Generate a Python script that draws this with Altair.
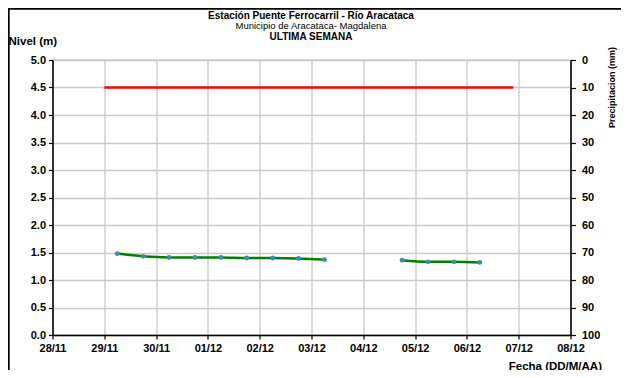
import altair as alt
import pandas as pd

# ---- data ----
times = ["2023-11-29T06:00:00", "2023-11-29T18:00:00", "2023-11-30T06:00:00",
         "2023-11-30T18:00:00", "2023-12-01T06:00:00", "2023-12-01T18:00:00",
         "2023-12-02T06:00:00", "2023-12-02T18:00:00", "2023-12-03T06:00:00",
         "2023-12-04T18:00:00", "2023-12-05T06:00:00", "2023-12-05T18:00:00",
         "2023-12-06T06:00:00"]
levels = [1.48, 1.43, 1.41, 1.41, 1.41, 1.40, 1.40, 1.39, 1.37,
          1.36, 1.33, 1.33, 1.32]
segments = [1, 1, 1, 1, 1, 1, 1, 1, 1, 2, 2, 2, 2]

alert_times = ["2023-11-29T00:00:00", "2023-12-06T21:30:00"]
alert_levels = [4.5, 4.5]

day_ticks = [(2023, 11, 28), (2023, 11, 29), (2023, 11, 30), (2023, 12, 1),
             (2023, 12, 2), (2023, 12, 3), (2023, 12, 4), (2023, 12, 5),
             (2023, 12, 6), (2023, 12, 7), (2023, 12, 8)]
level_ticks = [0.0, 0.5, 1.0, 1.5, 2.0, 2.5, 3.0, 3.5, 4.0, 4.5, 5.0]
precip_ticks = [0, 10, 20, 30, 40, 50, 60, 70, 80, 90, 100]

title_lines = ["Estación Puente Ferrocarril - Río Aracataca",
               "Municipio de Aracataca- Magdalena",
               "ULTIMA SEMANA"]

FONT = "Liberation Sans"

df = pd.DataFrame({"t": times, "nivel": levels, "seg": segments})
alert = pd.DataFrame({"t": alert_times, "nivel": alert_levels})
precip = pd.DataFrame({"p": [precip_ticks[0], precip_ticks[-1]]})
one = pd.DataFrame({"a": [0]})

dt = [alt.DateTime(year=y, month=m, date=d) for (y, m, d) in day_ticks]

x_enc = alt.X("t:T",
              scale=alt.Scale(domain=[dt[0], dt[-1]]),
              axis=alt.Axis(values=dt, format="%d/%m", title="Fecha (DD/M/AA)",
                            grid=True, gridColor="#c8c8c8", gridWidth=1.3,
                            tickSize=4, labelPadding=3, labelOverlap=False,
                            labelFlush=False,
                            titleX=549, titleY=34, titleAlign="right",
                            titleBaseline="alphabetic", titleFontSize=11.5,
                            titleFontWeight="bold", titleFont=FONT))
y_enc = alt.Y("nivel:Q",
              scale=alt.Scale(domain=[0, 5], nice=False, zero=False),
              axis=alt.Axis(values=level_ticks, format=".1f", title="Nivel (m)",
                            grid=True, gridColor="#c8c8c8", gridWidth=1.3,
                            tickSize=4, labelOverlap=False, labelFlush=False,
                            labelPadding=3,
                            titleAngle=0, titleX=-44.5, titleY=-16,
                            titleAlign="left", titleBaseline="alphabetic",
                            titleFontSize=11.5, titleFontWeight="bold",
                            titleFont=FONT))

alert_line = alt.Chart(alert).mark_line(color="#ff0000", strokeWidth=2.5)

level_line = alt.Chart(df).mark_line(color="#008000", strokeWidth=2.5,
                                     interpolate="monotone").encode(detail="seg:N")

level_pts = alt.Chart(df).mark_point(filled=True, size=24, color="#3b8fae",
                                     opacity=1)

main = alt.layer(alert_line, level_line, level_pts).encode(x=x_enc, y=y_enc)

right_axis = alt.Chart(precip).mark_point(opacity=0).encode(
    y=alt.Y("p:Q",
            scale=alt.Scale(domain=[0, 100], reverse=True, nice=False),
            axis=alt.Axis(orient="right", values=precip_ticks, format="d",
                          grid=False, tickSize=5, labelOverlap=False,
                          labelFlush=False,
                          title="Precipitacion (mm)",
                          titleAngle=270, titleX=41, titleY=27,
                          titleAlign="center", titleBaseline="middle",
                          titleFontSize=9, titleFontWeight="bold",
                          titleFont=FONT, labelPadding=6)))

t1 = alt.Chart(one).mark_text(text=title_lines[0], font=FONT, fontSize=10,
                              fontWeight="bold", align="center",
                              baseline="alphabetic").encode(
    x=alt.value(258.5), y=alt.value(-41.5))
t2 = alt.Chart(one).mark_text(text=title_lines[1], font=FONT, fontSize=9.5,
                              fontWeight="normal", align="center",
                              baseline="alphabetic").encode(
    x=alt.value(258.5), y=alt.value(-31))
t3 = alt.Chart(one).mark_text(text=title_lines[2], font=FONT, fontSize=10,
                              fontWeight="bold", align="center",
                              baseline="alphabetic").encode(
    x=alt.value(258.5), y=alt.value(-20.5))

border_left = alt.Chart(one).mark_rule(color="black", strokeWidth=2).encode(
    x=alt.value(-43.8), y=alt.value(-52), y2=alt.value(320))
border_top = alt.Chart(one).mark_rule(color="black", strokeWidth=2).encode(
    x=alt.value(-45), x2=alt.value(580), y=alt.value(-51.3))

chart = alt.layer(main, right_axis, t1, t2, t3, border_left, border_top).resolve_scale(
    y="independent"
).properties(
    width=518, height=275,
    autosize=alt.AutoSizeParams(type="none"),
    padding={"left": 44.5, "top": 52, "right": 50, "bottom": 35},
    background="white",
).configure_view(
    stroke="#888888", strokeWidth=1.2
).configure_axis(
    labelFont=FONT, labelFontSize=11, labelFontWeight="bold",
    labelColor="black", domainColor="black", domainWidth=1.5,
    tickColor="black", tickWidth=1.2, titleColor="black"
)

chart.save("out.html", embed_options={"renderer": "svg", "actions": False})
